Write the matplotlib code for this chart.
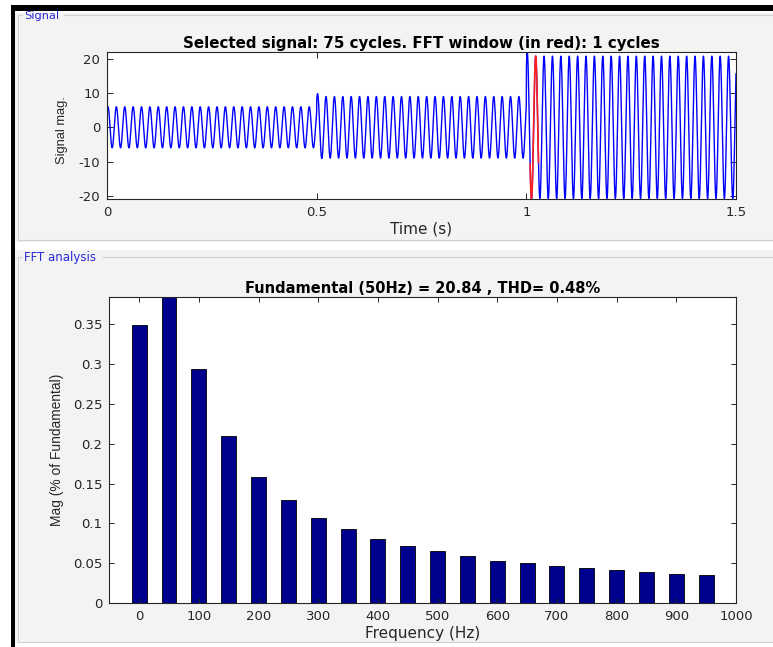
import numpy as np
import matplotlib
matplotlib.use("Agg")
import matplotlib.pyplot as plt
from matplotlib import font_manager
from matplotlib.patches import Rectangle
from matplotlib.lines import Line2D

# ---------------- data ----------------
# signal: three segments of a 50 Hz sine (amplitudes)
seg_start = [0.0, 0.5, 1.0]
seg_amp = [6.0, 9.0, 20.8]
seg_overshoot = [0.0, 1.3, 1.9]   # short transient at each step
sig_freq = 50.0
sig_phase = 0.85
fft_window = [1.009, 1.029]       # one cycle, drawn in red

# FFT bars (% of fundamental); 50 Hz fundamental clipped by axis
freqs = [0, 50, 100, 150, 200, 250, 300, 350, 400, 450,
         500, 550, 600, 650, 700, 750, 800, 850, 900, 950]
mags = [0.349, 100.0, 0.293, 0.210, 0.158, 0.129, 0.107, 0.0925, 0.0808, 0.0716,
        0.0654, 0.0595, 0.0533, 0.0508, 0.0463, 0.0438, 0.0413, 0.0388, 0.037, 0.035]

t_xticks = [0, 0.5, 1, 1.5]
t_xticklabels = ["0", "0.5", "1", "1.5"]
t_yticks = [-20, -10, 0, 10, 20]
f_xticks = list(range(0, 1001, 100))
f_yticks = [0, 0.05, 0.1, 0.15, 0.2, 0.25, 0.3, 0.35]

top_title = "Selected signal: 75 cycles. FFT window (in red): 1 cycles"
bot_title = "Fundamental (50Hz) = 20.84 , THD= 0.48%"

# ---------------- build signal ----------------
t = np.linspace(0, 1.5, 30001)
sig = np.zeros_like(t)
bounds = seg_start + [1.5001]
for i in range(3):
    m = (t >= bounds[i]) & (t < bounds[i + 1])
    amp = seg_amp[i] + seg_overshoot[i] * np.exp(-(t[m] - seg_start[i]) / 0.005)
    sig[m] = amp * np.sin(2 * np.pi * sig_freq * t[m] + sig_phase)

# ---------------- style ----------------
plt.rcParams['font.family'] = ['DejaVu Sans']
plt.rcParams['axes.unicode_minus'] = False
names = {f.name for f in font_manager.fontManager.ttflist}
if 'Liberation Sans Narrow' in names:
    ylab_font, ylab_scale = 'Liberation Sans Narrow', 1.3
else:
    ylab_font, ylab_scale = 'Liberation Sans', 1.08

W, H = 773, 647
fig = plt.figure(figsize=(W / 100, H / 100), dpi=100, facecolor='white')

def fx(px):
    return px / W

def fy(py):
    return 1 - py / H

panel_bg = '#f3f3f3'
frame_c = '#cfcfcf'
# black outer border (left and top)
fig.add_artist(Rectangle((fx(11), 0), fx(W - 11) + 0.01, fy(5), transform=fig.transFigure,
                         facecolor='black', edgecolor='none', zorder=0))
# white inner area
fig.add_artist(Rectangle((fx(15), -0.01), fx(W - 15) + 0.02, fy(11) + 0.01,
                         transform=fig.transFigure, facecolor='white',
                         edgecolor='none', zorder=0))
# panels
fig.add_artist(Rectangle((fx(15), fy(242)), fx(W - 15) + 0.01, fy(13) - fy(242),
                         transform=fig.transFigure, facecolor=panel_bg,
                         edgecolor='none', zorder=0))
fig.add_artist(Rectangle((fx(15), fy(643)), fx(W - 15) + 0.01, fy(250) - fy(643),
                         transform=fig.transFigure, facecolor=panel_bg,
                         edgecolor='none', zorder=0))

def hline(x0, x1, y):
    fig.add_artist(Line2D([fx(x0), fx(x1)], [fy(y), fy(y)], transform=fig.transFigure,
                          color=frame_c, lw=0.8, zorder=1))

def vline(x, y0, y1):
    fig.add_artist(Line2D([fx(x), fx(x)], [fy(y0), fy(y1)], transform=fig.transFigure,
                          color=frame_c, lw=0.8, zorder=1))

# Signal panel frame
hline(18, 22, 15); hline(64, W + 5, 15); vline(18, 15, 240); hline(18, W + 5, 240)
# FFT panel frame
hline(18, 22, 257); hline(103, W + 5, 257); vline(18, 257, 642); hline(18, W + 5, 642)

label_blue = '#2a2ad8'
fig.text(fx(24), fy(16), "Signal", color=label_blue, fontsize=8.2, va='center', ha='left')
fig.text(fx(24), fy(257), "FFT analysis", color=label_blue, fontsize=8.5, va='center', ha='left')

axis_c = '#262626'

def style_axes(ax, ticklen):
    for s in ax.spines.values():
        s.set_color(axis_c)
        s.set_linewidth(0.8)
    ax.tick_params(direction='in', top=True, right=True, length=ticklen, width=0.7,
                   color=axis_c, labelcolor=axis_c, labelsize=9.5, pad=5)

# ---------------- top axes ----------------
ax1 = fig.add_axes([fx(107), fy(199), fx(736) - fx(107), fy(52) - fy(199)])
ax1.plot(t, sig, color='#0000ff', lw=1.0)
mw = (t >= fft_window[0]) & (t <= fft_window[1])
ax1.plot(t[mw], sig[mw], color='#ff2020', lw=1.2)
ax1.set_xlim(0, 1.5)
ax1.set_ylim(sig.min(), sig.max())
ax1.set_xticks(t_xticks)
ax1.set_xticklabels(t_xticklabels)
ax1.set_yticks(t_yticks)
style_axes(ax1, 4.3)
ax1.set_title(top_title, fontsize=10.8, fontweight='bold', pad=3)
ax1.set_xlabel("Time (s)", fontsize=11, color=axis_c)
ax1.xaxis.set_label_coords(0.5, -0.15)
ax1.set_ylabel("Signal mag.", fontsize=8.6 * ylab_scale, family=ylab_font, color=axis_c)
ax1.yaxis.set_label_coords(-0.062, 0.47)

# ---------------- bottom axes ----------------
ax2 = fig.add_axes([fx(109.3), fy(603.3), fx(736) - fx(109.3), fy(296.7) - fy(603.3)])
ax2.bar(freqs, mags, width=25, color='#00008f', edgecolor='black', linewidth=0.6)
harm = [m for f, m in zip(freqs, mags) if f != 50]
ax2.set_xlim(-50, 1000)
ax2.set_ylim(0, 1.1 * max(harm))
ax2.set_xticks(f_xticks)
ax2.set_yticks(f_yticks)
ax2.set_yticklabels(["%g" % v for v in f_yticks])
style_axes(ax2, 3.6)
ax2.set_title(bot_title, fontsize=10.5, fontweight='bold', pad=2.5)
ax2.set_xlabel("Frequency (Hz)", fontsize=11, color=axis_c)
ax2.xaxis.set_label_coords(0.5, -0.075)
ax2.set_ylabel("Mag (% of Fundamental)", fontsize=9.2 * ylab_scale, family=ylab_font,
               color=axis_c)
ax2.yaxis.set_label_coords(-0.072, 0.5)

fig.savefig("out.png", dpi=100, facecolor=fig.get_facecolor())
